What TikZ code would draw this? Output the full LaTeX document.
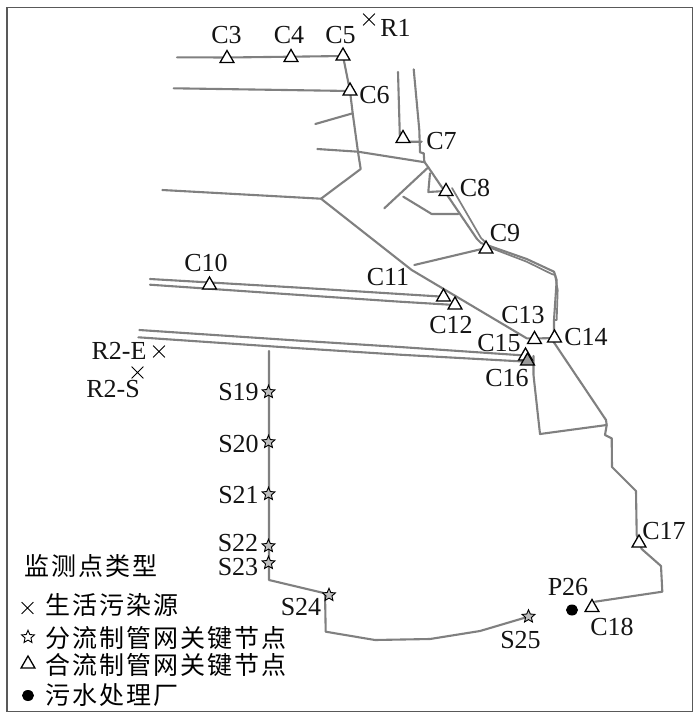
\documentclass[tikz,border=0pt]{standalone}
\usepackage{fontspec}
\setmainfont{Liberation Serif}
\newfontfamily\cjk[LetterSpace=8]{Noto Sans CJK SC}
\usetikzlibrary{shapes.geometric,shapes.misc}
\tikzset{
  pipe/.style={draw=black!50,line width=2.1pt,line join=round,line cap=round},
  frame/.style={draw=black!65,line width=1.6pt},
  tri/.style={regular polygon,regular polygon sides=3,draw=black,line width=1.3pt,fill=white,minimum size=16pt,inner sep=0pt},
  starm/.style={star,star points=5,star point ratio=2.2,draw=black,line width=0.9pt,fill=black!25,minimum size=13.5pt,inner sep=0pt},
  crossm/.style={cross out,draw=black,line width=0.8pt,minimum size=11pt,inner sep=0pt},
  dotm/.style={ellipse,fill=black,minimum width=12pt,minimum height=11pt,inner sep=0pt},
  lab/.style={font=\fontsize{26}{26}\selectfont,text=black!92,inner sep=0pt},
  leg/.style={font=\fontsize{25}{25}\selectfont\cjk,text=black,inner sep=0pt,anchor=west}
}
\begin{document}
\begin{tikzpicture}[x=1pt,y=-1pt]
\useasboundingbox (0,0) rectangle (700,721);
\fill[white] (0,0) rectangle (700,721);
\draw[frame] (7,7.5) rectangle (692.5,711.5);
% pipes
\draw[pipe] (177,57.3) -- (227,57.5) -- (291,56.7) -- (343,56) -- (350,91) -- (352.7,113.3) -- (358,152) -- (360.7,169) -- (321,198.7) -- (411.7,270) -- (526.7,338.3) -- (534,338.5) -- (554,338);
\draw[pipe] (173.7,88.3) -- (350,91);
\draw[pipe] (315.3,124) -- (352.7,113.3);
\draw[pipe] (317.3,149) -- (358,151.7) -- (425,162.3);
\draw[pipe] (162.3,190) -- (321,198.7);
\draw[pipe] (398,72) -- (400,141.7) -- (421.7,141.7);
\draw[pipe] (413.7,69.3) -- (419.3,130) -- (420,152.3) -- (423.7,153.3) -- (424.3,161.7) -- (428.3,167.3) -- (477,239) -- (481,243) -- (526.7,259) -- (554,271.7) -- (556.7,280) -- (554,320) -- (554,338);
\draw[pipe,line width=1.7pt] (452,188) -- (481,238) -- (491.7,248.3) -- (526.7,261.7) -- (551.7,274) -- (555,275) -- (557.7,290) -- (556.7,320) -- (554,320);
\draw[pipe] (428.3,167.3) -- (384.3,208.3);
\draw[pipe] (430,173.3) -- (428.3,192) -- (445.7,191);
\draw[pipe] (403.3,196.7) -- (431.7,214) -- (458.3,214);
\draw[pipe] (414.3,265) -- (486,248);
\draw[pipe] (150,279) -- (300,287.7) -- (400,294) -- (443.3,296.7);
\draw[pipe] (150,284.7) -- (300,295) -- (400,301.7) -- (455,305);
\draw[pipe] (139.3,330) -- (300,340.7) -- (400,347) -- (525,355.5);
\draw[pipe] (138.3,337.3) -- (300,348.3) -- (400,354.7) -- (527,361.7);
\draw[pipe] (533.5,356) -- (533.5,375) -- (540,434) -- (606.7,425) -- (606,420) -- (553,341) -- (554,338);
\draw[pipe] (606.7,425) -- (605,435) -- (611.7,438.3) -- (612,467) -- (636,491) -- (636.7,535) -- (641.7,549) -- (661,566) -- (662.3,591.7) -- (595,601.7);
\draw[pipe] (269,351) -- (269,580) -- (325,593.3) -- (325.7,631.7) -- (375,640) -- (430,639) -- (480,631) -- (528.3,616.7);
% triangles
\foreach \n/\x/\y in {C3/227/58.5,C4/291/57.5,C5/343/56,C6/350/91,C7/403/138.5,C8/446/191.5,C9/486/249,C10/209.5/285,C11/443.5/297,C12/455/305,C13/534.5/339.5,C14/554.5/338,C15/525.5/356,C17/639/543,C18/592/607.5}
  \node[tri] (\n) at (\x,\y) {};
\node[tri,fill=black!40] (C16) at (527.5,361) {};
% stars
\foreach \n/\x/\y in {S19/268.5/392,S20/268.5/442,S21/268.5/494,S22/268.5/546,S23/268.5/563,S24/329/595,S25/528.5/616.5}
  \node[starm] (\n) at (\x,\y) {};
% sources and plant
\foreach \n/\x/\y in {R1/369/19.5,R2E/159/351.5,R2S/137.5/372.5}
  \node[crossm] (\n) at (\x,\y) {};
\node[dotm] (P26) at (572,610) {};
% labels
\foreach \t/\x/\y in {C3/226.5/35,C4/289/35,C5/340.5/35,R1/395.5/28,C6/374.5/95,C7/441.5/141,C8/475/188,C9/505/233,C10/206/263,C11/388/277,C12/451/325,C13/523/315,C14/586/337,C15/499/343,C16/507/378,C17/664/531,C18/612/627,P26/568/587,S25/520.5/640,S24/301/607,S19/238.5/392,S20/238.5/444,S21/238.5/495,S22/238/543.5,S23/238/567,R2-E/119/351,R2-S/113/389}
  \node[lab] (l\t) at (\x,\y) {\t};
% legend
\node[leg] (ltitle) at (24.5,565.5) {监测点类型};
\node[crossm] (mc) at (27.5,608) {};
\node[starm,fill=white] (ms) at (28,637) {};
\node[tri] (mt) at (28,664) {};
\node[dotm] (md) at (28,695.5) {};
\node[leg] (t1) at (45,605) {生活污染源};
\node[leg] (t2) at (45,638) {分流制管网关键节点};
\node[leg] (t3) at (45,665) {合流制管网关键节点};
\node[leg] (t4) at (45,695) {污水处理厂};
\end{tikzpicture}
\end{document}
